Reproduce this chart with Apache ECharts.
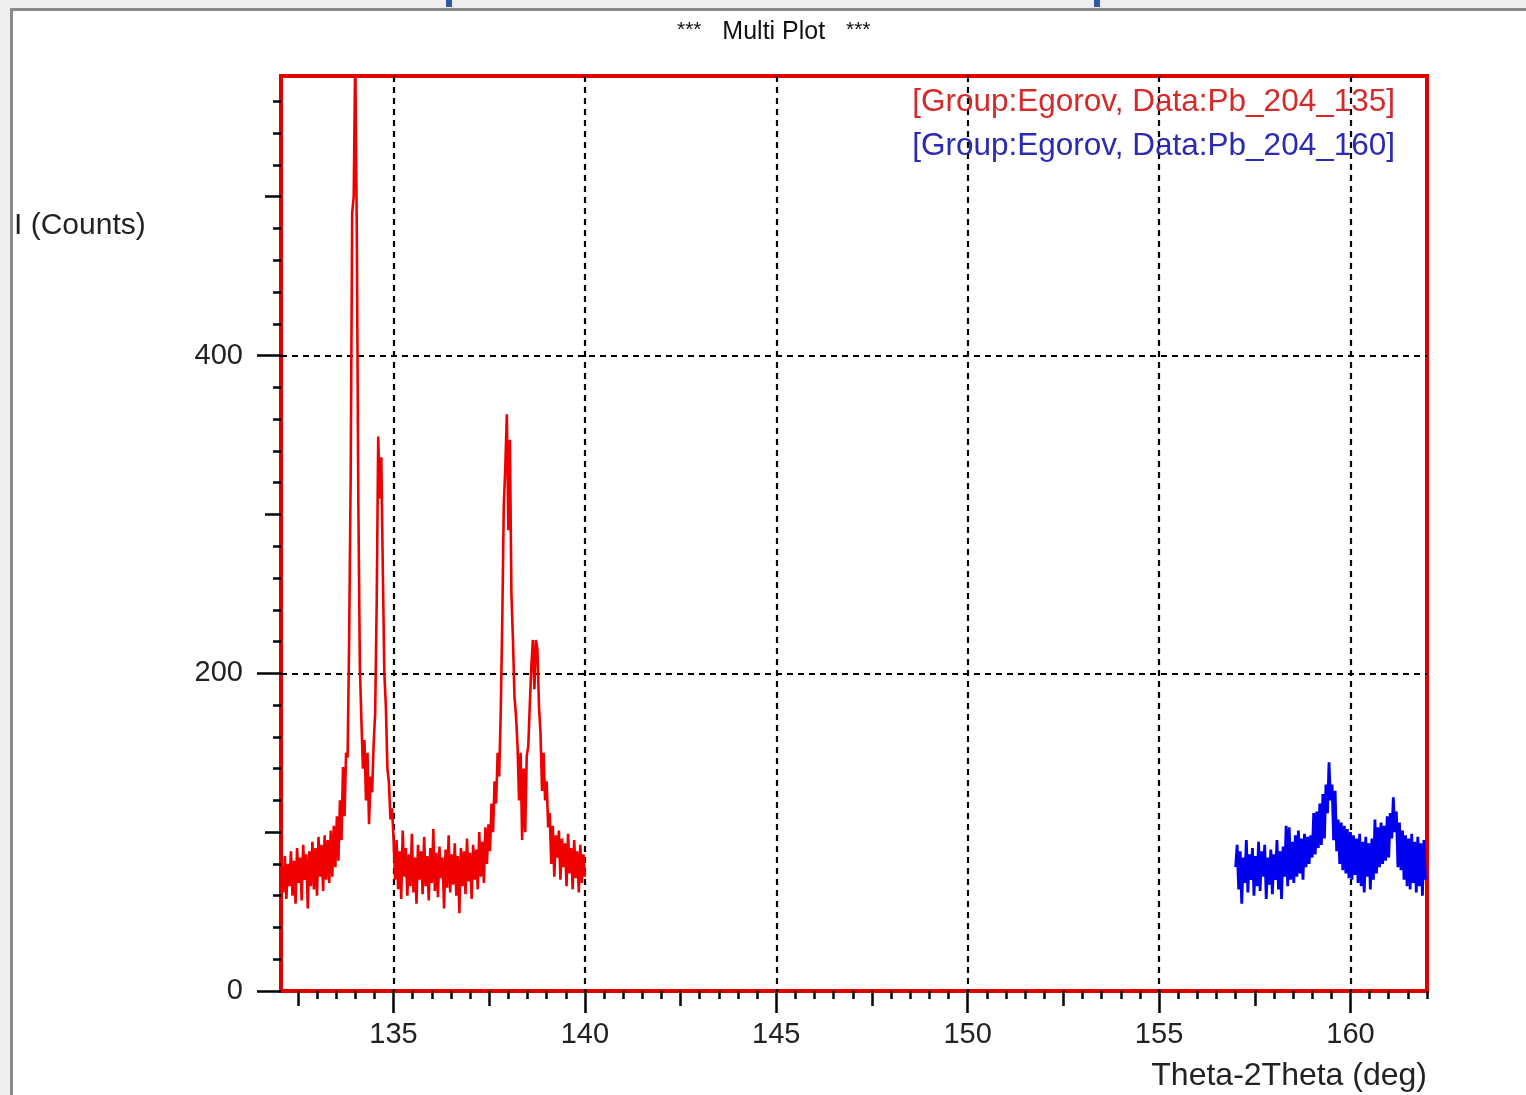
<!DOCTYPE html>
<html>
<head>
<meta charset="utf-8">
<title>Multi Plot</title>
<script src="https://cdn.jsdelivr.net/npm/echarts@6/dist/echarts.min.js"></script>
<style>
  html, body { margin: 0; padding: 0; background: #ffffff; }
  #chart { width: 1526px; height: 1095px; }
</style>
</head>
<body>
<div id="chart"></div>
<script>
// Theta-2Theta scans, counts per step (step 0.04 deg)
const scanStep = 0.04;

const redName = '[Group:Egorov, Data:Pb_204_135]';
const redStart = 132.08;
const redCounts = [
  78, 62, 85, 58, 80, 66, 88, 60, 82, 55,
  90, 68, 84, 57, 92, 70, 86, 52, 88, 66,
  94, 64, 90, 60, 97, 72, 92, 63,
  98, 70, 95, 68, 101, 72, 104, 78, 110, 82, 120, 95, 141, 110, 150, 147,
  221, 323, 490, 500, 590, 480, 309, 205, 171, 140,
  158, 120, 150, 105, 135, 125, 155, 175, 244, 349,
  310, 336, 265, 200, 179, 140, 131, 108, 115, 96,
  70, 95, 64, 88, 58, 101, 72, 90, 60, 86,
  66, 99, 62, 84, 55, 92, 70, 88, 61, 97,
  66, 85, 57, 90, 68, 102, 63, 87, 59, 91,
  71, 84, 52, 89, 65, 98, 62, 86, 67, 93,
  60, 85, 49, 90, 66, 88, 61, 96, 69, 87,
  58, 92, 70, 89, 64, 100, 72, 94, 68, 103,
  80, 105, 88, 118, 100, 132, 118, 150, 135, 175,
  232, 305, 330, 363, 290, 347, 250, 221, 185, 173,
  154, 120, 150, 95, 140, 100, 148, 154, 180, 204,
  221, 190, 221, 215, 179, 162, 126, 150, 120, 132,
  103, 112, 80, 104, 72, 98, 84, 101, 70, 96,
  78, 93, 66, 99, 74, 90, 64, 95, 71, 88,
  62, 92, 68, 86, 72
];

const blueName = '[Group:Egorov, Data:Pb_204_160]';
const blueStart = 157.0;
const blueCounts = [
  78, 92, 64, 88, 55, 84, 68, 95, 62, 86,
  70, 90, 60, 85, 66, 94, 63, 88, 72, 92,
  58, 84, 67, 89, 61, 86, 70, 95, 64, 88,
  58, 91, 72, 104, 66, 103, 70, 94, 68, 98,
  72, 101, 74, 96, 70, 99, 78, 97, 80, 98,
  84, 112, 86, 113, 90, 118, 92, 124, 96, 130,
  112, 144, 120, 130, 95, 126, 88, 108, 80, 106,
  76, 104, 74, 102, 71, 100, 70, 98, 73, 96,
  68, 99, 66, 94, 62, 97, 72, 93, 64, 96,
  70, 108, 74, 103, 78, 106, 80, 104, 82, 110,
  84, 112, 96, 122, 100, 113, 78, 106, 76, 101,
  70, 98, 66, 96, 64, 99, 68, 94, 62, 97,
  66, 93, 60, 95, 70
];

// Axis ranges and tick positions
const xRange = [132.06, 162];
const yRange = [0, 576];
const xMajorTicks = [135, 140, 145, 150, 155, 160];
const xMidTicks = [132.5, 137.5, 142.5, 147.5, 152.5, 157.5];
const xMinorStep = 0.5;
const yMajorTicks = [0, 200, 400];
const yGridTicks = [200, 400];
const yMidTicks = [100, 300, 500];
const yMinorStep = 20;

function stepsBetween(lo, hi, step) {
  const out = [];
  for (let v = Math.ceil(lo / step) * step; v <= hi + 1e-9; v += step) out.push(+v.toFixed(3));
  return out;
}
const xMinorTicks = stepsBetween(xRange[0], xRange[1], xMinorStep);
const yMinorTicks = stepsBetween(yRange[0], yRange[1], yMinorStep);

function toPoints(start, counts) {
  return counts.map((c, i) => [+(start + i * scanStep).toFixed(2), c]);
}

const FONT = '"Liberation Sans", Arial, sans-serif';
const TICK_STYLE = { color: '#000', width: 2.5 };
const GRID_LINE = { color: '#000', width: 2.2, type: [6, 5] };

function tickAxis(kind, values, length, extra) {
  const ax = {
    type: 'value',
    min: kind === 'x' ? xRange[0] : yRange[0],
    max: kind === 'x' ? xRange[1] : yRange[1],
    position: kind === 'x' ? 'bottom' : 'left',
    offset: 0,
    axisLine: { show: false, onZero: false },
    axisTick: { show: true, length: length, customValues: values, lineStyle: TICK_STYLE },
    axisLabel: { show: false },
    splitLine: { show: false }
  };
  return Object.assign(ax, extra || {});
}

const chart = echarts.init(document.getElementById('chart'), null, { renderer: 'canvas' });

chart.setOption({
  animation: false,
  backgroundColor: '#ffffff',
  title: {
    text: '{s|***}   Multi Plot   {s|***}',
    left: 672,
    top: 15,
    textStyle: {
      fontFamily: FONT,
      fontSize: 25,
      fontWeight: 'normal',
      color: '#111',
      rich: { s: { fontFamily: FONT, fontSize: 21, color: '#111', verticalAlign: 'top' } }
    }
  },
  legend: {
    orient: 'vertical',
    right: 126,
    top: 79,
    icon: 'none',
    itemWidth: 0,
    itemHeight: 0,
    itemGap: 8,
    selectedMode: false,
    textStyle: { fontFamily: FONT, fontSize: 31.5, lineHeight: 36 },
    data: [
      { name: redName, textStyle: { color: '#d42a2a' } },
      { name: blueName, textStyle: { color: '#2a2ab4' } }
    ]
  },
  grid: {
    left: 281,
    right: 99,
    top: 76,
    bottom: 104,
    show: true,
    borderColor: '#e00000',
    borderWidth: 4,
    backgroundColor: 'transparent'
  },
  xAxis: [
    tickAxis('x', xMajorTicks, 22, {
      axisLabel: {
        show: true,
        customValues: xMajorTicks,
        margin: 29,
        fontFamily: FONT,
        fontSize: 29,
        color: '#222'
      },
      splitLine: { show: true, lineStyle: GRID_LINE }
    }),
    tickAxis('x', xMidTicks, 15),
    tickAxis('x', xMinorTicks, 8)
  ],
  yAxis: [
    tickAxis('y', yMajorTicks, 24, {
      axisLabel: {
        show: true,
        customValues: yMajorTicks,
        margin: 38,
        fontFamily: FONT,
        fontSize: 29,
        color: '#222'
      }
    }),
    tickAxis('y', yGridTicks, 0, {
      axisTick: { show: false, customValues: yGridTicks },
      splitLine: { show: true, lineStyle: GRID_LINE }
    }),
    tickAxis('y', yMidTicks, 16),
    tickAxis('y', yMinorTicks, 8)
  ],
  graphic: [
    // window chrome around the plot page
    { type: 'rect', z: -100, silent: true, shape: { x: 0, y: 0, width: 1526, height: 9 }, style: { fill: '#efefef' } },
    { type: 'rect', z: -100, silent: true, shape: { x: 0, y: 0, width: 11, height: 1095 }, style: { fill: '#efefef' } },
    { type: 'polyline', z: -90, silent: true, shape: { points: [[11.5, 1095], [11.5, 9.5], [1526, 9.5]] }, style: { stroke: '#8a8a8a', lineWidth: 3, fill: null } },
    { type: 'rect', z: -90, silent: true, shape: { x: 446, y: 0, width: 6, height: 7 }, style: { fill: '#3158a6' } },
    { type: 'rect', z: -90, silent: true, shape: { x: 1094, y: 0, width: 6, height: 7 }, style: { fill: '#3158a6' } },
    // axis titles
    { type: 'text', silent: true, x: 14, y: 226, style: { text: 'I (Counts)', font: '30px ' + FONT, fill: '#222', textVerticalAlign: 'middle', verticalAlign: 'middle' } },
    { type: 'text', silent: true, x: 1427, y: 1076, style: { text: 'Theta-2Theta (deg)', font: '32px ' + FONT, fill: '#222', align: 'right', textAlign: 'right', verticalAlign: 'middle', textVerticalAlign: 'middle' } }
  ],
  series: [
    {
      name: redName,
      type: 'line',
      xAxisIndex: 0,
      yAxisIndex: 0,
      showSymbol: false,
      clip: true,
      lineStyle: { color: '#ee0000', width: 2.6 },
      itemStyle: { color: '#ee0000' },
      data: toPoints(redStart, redCounts)
    },
    {
      name: blueName,
      type: 'line',
      xAxisIndex: 0,
      yAxisIndex: 0,
      showSymbol: false,
      clip: true,
      lineStyle: { color: '#0000ee', width: 2.8 },
      itemStyle: { color: '#0000ee' },
      data: toPoints(blueStart, blueCounts)
    }
  ]
});
</script>
</body>
</html>
